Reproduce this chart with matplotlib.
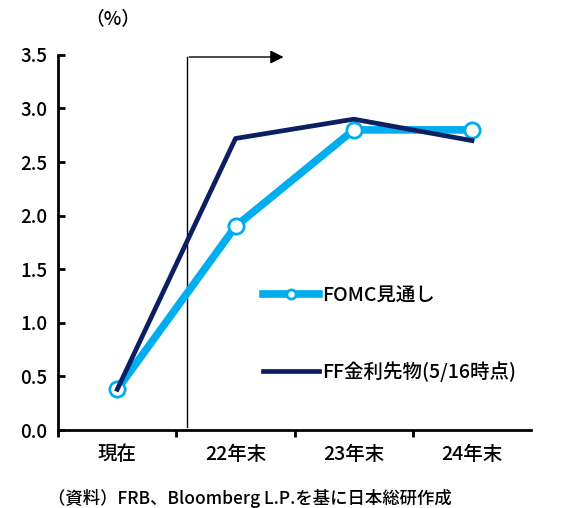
import matplotlib
matplotlib.use('Agg')
import matplotlib.pyplot as plt

plt.rcParams['font.family'] = ['Noto Sans CJK JP', 'DejaVu Sans']
plt.rcParams['font.weight'] = 'medium'

# data
categories = ['現在', '22年末', '23年末', '24年末']
fomc = [0.38, 1.90, 2.80, 2.80]
ff_futures = [0.38, 2.72, 2.90, 2.70]
yticks = [0.0, 0.5, 1.0, 1.5, 2.0, 2.5, 3.0, 3.5]

fig = plt.figure(figsize=(5.65, 5.08), dpi=100)
ax = fig.add_axes([0.103, 0.1535, 0.837, 0.7385])

x = list(range(len(categories)))
ax.plot(x, fomc, color='#00AEEF', lw=5.5, marker='o', markersize=11,
        markerfacecolor='white', markeredgecolor='#00AEEF', markeredgewidth=2,
        label='FOMC見通し', zorder=3)
ax.plot(x, ff_futures, color='#0A2062', lw=3.4, label='FF金利先物(5/16時点)', zorder=4)

ax.set_xlim(-0.5, 3.5)
ax.set_ylim(0, 3.5)
ax.set_yticks(yticks)
ax.set_yticklabels([f'{v:.1f}' for v in yticks], fontsize=13.5)
ax.set_xticks([-0.5, 0.5, 1.5, 2.5])
ax.set_xticklabels([])
ax.set_xticks(x, minor=True)
ax.set_xticklabels(categories, minor=True, fontsize=14)
ax.tick_params(axis='x', which='minor', length=0, pad=11)
ax.tick_params(axis='x', which='major', length=5, width=2, direction='out')
ax.tick_params(axis='y', length=5, width=2, direction='in', pad=8)

for s in ['top', 'right']:
    ax.spines[s].set_visible(False)
for s in ['left', 'bottom']:
    ax.spines[s].set_linewidth(2)

# forecast period marker
ax.plot([0.59, 0.59], [0.03, 3.48], color='black', lw=1)
ax.annotate('', xy=(1.43, 3.48), xytext=(0.585, 3.48),
            arrowprops=dict(arrowstyle='-|>', color='black', lw=1, mutation_scale=20))

ax.legend(loc='upper left', bbox_to_anchor=(263 / 565, 1 - 286 / 508),
          bbox_transform=fig.transFigure, frameon=False, fontsize=14,
          borderpad=0, borderaxespad=0, markerscale=0.6,
          handlelength=2.9, handletextpad=0.15, labelspacing=2.9)

fig.text(0.2, 0.952, '（%）', fontsize=13.5, ha='center')
fig.text(0.085, 0.008, '（資料）FRB、Bloomberg L.P.を基に日本総研作成', fontsize=12.5)

fig.savefig('out.png', dpi=100)
